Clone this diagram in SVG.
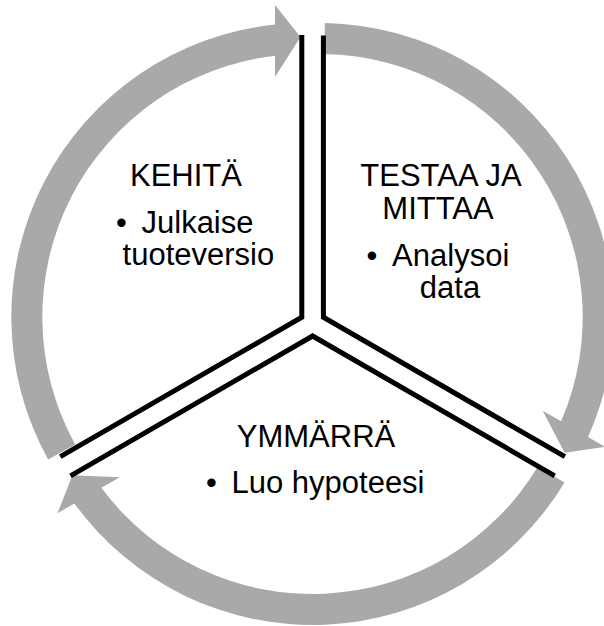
<svg xmlns="http://www.w3.org/2000/svg" width="604" height="626" viewBox="0 0 604 626">
  <style>
    .arrow { fill: #A9A9A9; stroke: none; }
    .edge { fill: none; stroke: #000000; stroke-width: 5; stroke-linejoin: miter; stroke-linecap: butt; }
    .t { font-family: "Liberation Sans", Arial, sans-serif; font-size: 31px; fill: #000000; }
  </style>
  <rect x="0" y="0" width="604" height="626" fill="#FFFFFF"/>
  <g id="connectors">
    <path id="arrow-kehita" class="arrow" d="M 48.16 459.53 A 294 294 0 0 1 275 24.57 L 275 5 L 300.5 37 L 275 77 L 275 55.75 A 263 263 0 0 0 75.28 444.51 Z"/>
    <path id="arrow-testaa" class="arrow" d="M 324.84 23.05 A 294 294 0 0 1 588.09 436.97 L 605.05 446.76 L 564.6 452.84 L 542.69 410.76 L 561.09 421.36 A 263 263 0 0 0 324.29 54.04 Z"/>
    <path id="arrow-ymmarra" class="arrow" d="M 564.5 482.41 A 294 294 0 0 1 74.41 503.44 L 57.46 513.24 L 72.42 475.16 L 119.81 477.24 L 101.41 487.84 A 263 263 0 0 0 537.93 466.44 Z"/>
  </g>
  <g id="node-kehita">
    <path class="edge" d="M 301.8 35 L 301.8 317.25 L 60.3 456.7"/>
    <text class="t" x="186" y="186" text-anchor="middle">KEHITÄ</text>
    <text class="t" x="116" y="232.5">•</text>
    <text class="t" x="197.5" y="232.5" text-anchor="middle">Julkaise</text>
    <text class="t" x="198.4" y="265" text-anchor="middle">tuoteversio</text>
  </g>
  <g id="node-testaa">
    <path class="edge" d="M 323.4 35.5 L 323.4 317.25 L 564.9 456.7"/>
    <text class="t" x="441" y="186" text-anchor="middle">TESTAA JA</text>
    <text class="t" x="438" y="219" text-anchor="middle">MITTAA</text>
    <text class="t" x="366.5" y="266">•</text>
    <text class="t" x="450.7" y="266" text-anchor="middle">Analysoi</text>
    <text class="t" x="450" y="297.5" text-anchor="middle">data</text>
  </g>
  <g id="node-ymmarra">
    <path class="edge" d="M 70.5 475.8 L 312.6 336 L 554.7 475.8"/>
    <text class="t" x="316" y="447" text-anchor="middle">YMMÄRRÄ</text>
    <text class="t" x="206" y="493">•</text>
    <text class="t" x="328" y="493" text-anchor="middle">Luo hypoteesi</text>
  </g>
</svg>
